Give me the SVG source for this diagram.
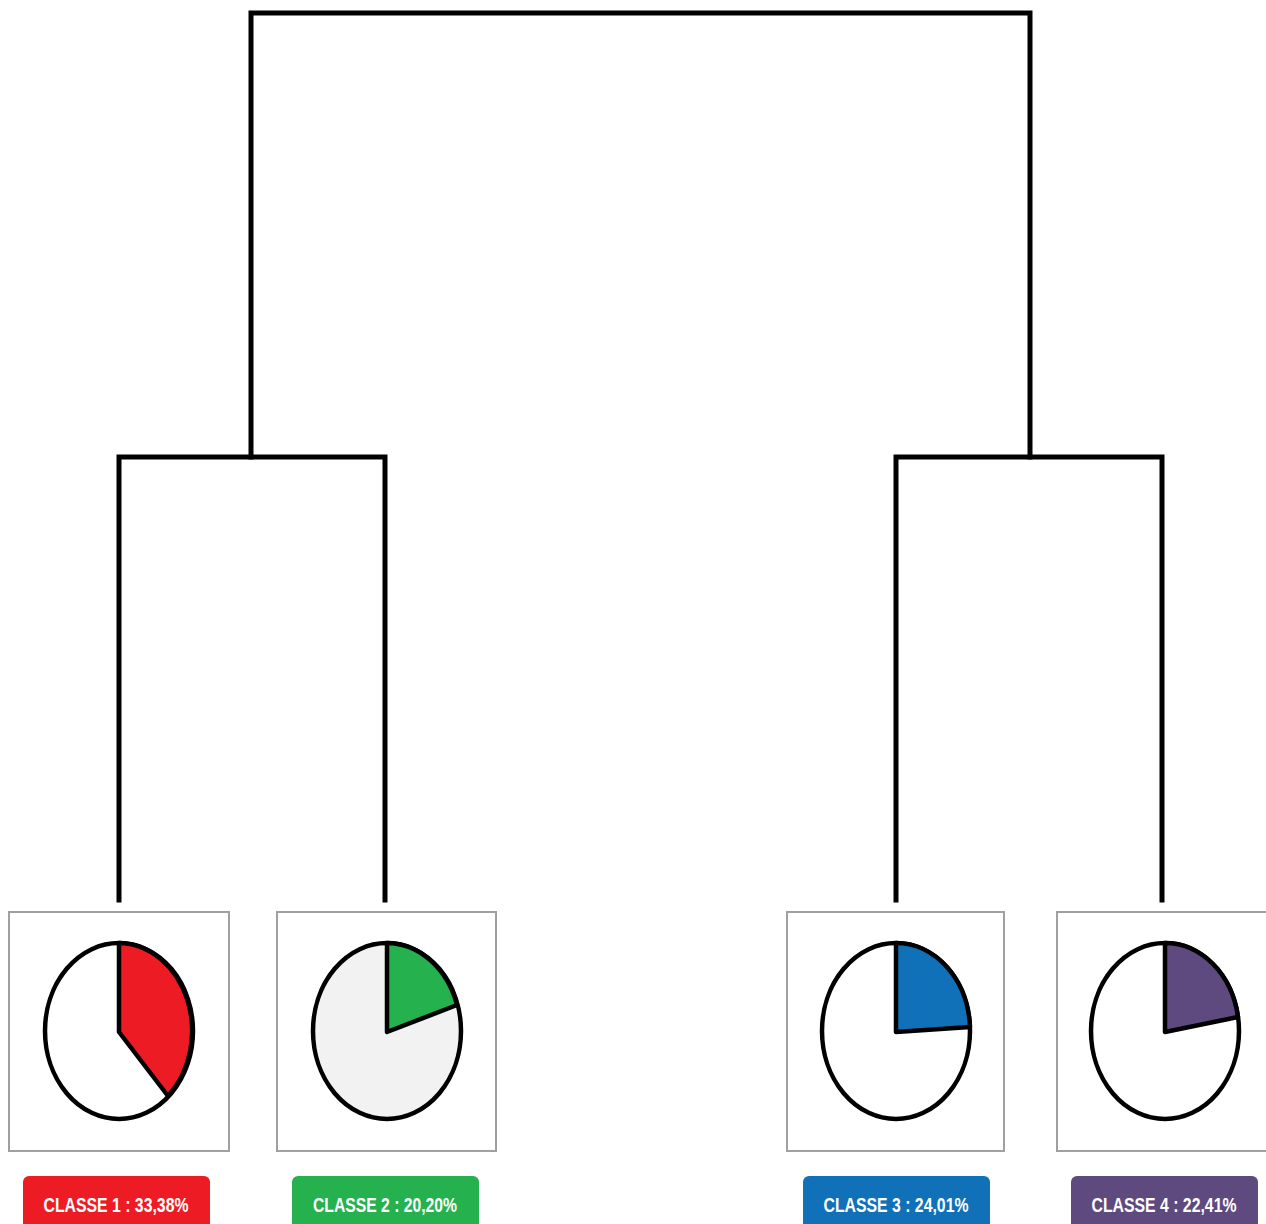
<svg xmlns="http://www.w3.org/2000/svg" width="1266" height="1224" viewBox="0 0 1266 1224">
<style>
.tree{fill:none;stroke:#000;stroke-width:5;stroke-linecap:square;stroke-linejoin:miter}
.box{fill:#fff;stroke:#a0a0a0;stroke-width:2}
.pie{stroke:#000;stroke-width:4.5;stroke-linejoin:round}
.lbl{font-family:"Liberation Sans",Arial,sans-serif;font-weight:bold;font-size:20px;fill:#fff;text-anchor:middle}
</style>
<rect width="1266" height="1224" fill="#fff"/>
<g id="connectors">
<path class="tree" d="M251,457 V13 H1030 V457"/>
<path class="tree" d="M119,900 V457 H385 V900"/>
<path class="tree" d="M896,900 V457 H1162 V900"/>
</g>
<g id="classe1">
<rect class="box" x="9" y="912" width="220" height="239"/>
<ellipse class="pie" cx="119" cy="1031" rx="74" ry="88" fill="#fff"/>
<path class="pie" d="M119,1032 L119,943 A74,88 0 0,1 168,1096 Z" fill="#ed1c24"/>
<rect x="23" y="1176" width="187" height="60" rx="6" fill="#ed1c24"/>
<text class="lbl" x="116" y="1212" textLength="145" lengthAdjust="spacingAndGlyphs">CLASSE 1 : 33,38%</text>
</g>
<g id="classe2">
<rect class="box" x="277" y="912" width="219" height="239"/>
<ellipse class="pie" cx="387" cy="1031" rx="74" ry="88" fill="#f2f2f2"/>
<path class="pie" d="M387,1032 L387,943 A74,88 0 0,1 457,1005 Z" fill="#24b14e"/>
<rect x="292" y="1176" width="187" height="60" rx="6" fill="#24b14e"/>
<text class="lbl" x="385" y="1212" textLength="144" lengthAdjust="spacingAndGlyphs">CLASSE 2 : 20,20%</text>
</g>
<g id="classe3">
<rect class="box" x="787" y="912" width="217" height="239"/>
<ellipse class="pie" cx="896" cy="1031" rx="74" ry="88" fill="#fff"/>
<path class="pie" d="M896,1032 L896,943 A74,88 0 0,1 970,1027 Z" fill="#1070b8"/>
<rect x="803" y="1176" width="187" height="60" rx="6" fill="#1070b8"/>
<text class="lbl" x="896" y="1212" textLength="145" lengthAdjust="spacingAndGlyphs">CLASSE 3 : 24,01%</text>
</g>
<g id="classe4">
<rect class="box" x="1057" y="912" width="220" height="239"/>
<ellipse class="pie" cx="1165" cy="1031" rx="74" ry="88" fill="#fff"/>
<path class="pie" d="M1165,1032 L1165,943 A74,88 0 0,1 1238,1017 Z" fill="#5e4a7e"/>
<rect x="1071" y="1176" width="187" height="60" rx="6" fill="#5e4a7e"/>
<text class="lbl" x="1164" y="1212" textLength="145" lengthAdjust="spacingAndGlyphs">CLASSE 4 : 22,41%</text>
</g>
</svg>
